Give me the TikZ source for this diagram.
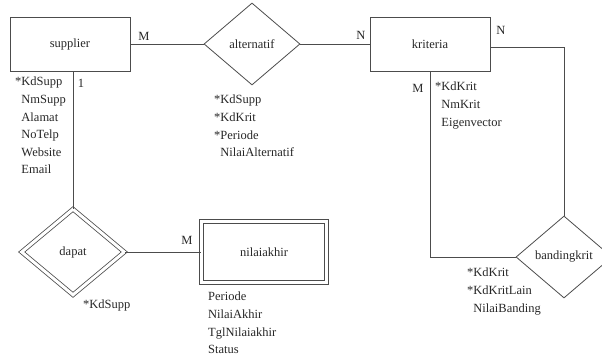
\documentclass[tikz,border=0pt]{standalone}
\usepackage{fontspec}
\setmainfont{Liberation Serif}
\usetikzlibrary{shapes.geometric, positioning, calc}

\begin{document}
\begin{tikzpicture}[
  x=1pt, y=-1pt,
  every node/.style={font=\fontsize{12.5}{17.6}\selectfont, text=black!85},
  line/.style={draw=black!70, line width=0.8pt},
  entity/.style={line, rectangle, minimum width=120pt, minimum height=54pt, inner sep=0pt},
  wentity/.style={line, rectangle, double, double distance=3.5pt, minimum width=125pt, minimum height=61pt, inner sep=0pt},
  relation/.style={line, diamond, minimum width=96pt, minimum height=82pt, inner sep=0pt},
  wrelation/.style={line, diamond, double, double distance=3pt, minimum width=103pt, minimum height=86pt, inner sep=0pt},
  attr/.style={anchor=north west, align=left, inner sep=0pt},
  card/.style={inner sep=0pt}
]
  \clip (0,0) rectangle (602,358);
  \useasboundingbox (0,0) rectangle (602,358);

  % entities and relations
  \node[entity] (supplier) at (70,44) {supplier};
  \node[relation] (alternatif) at (252,44) {alternatif};
  \node[entity] (kriteria) at (430,44) {kriteria};
  \node[relation] (bandingkrit) at (564,257) {bandingkrit};
  \node[wrelation] (dapat) at (73,252) {dapat};
  \node[wentity] (nilaiakhir) at (264,252) {nilaiakhir};

  % connectors
  \draw[line] (supplier.east) -- (alternatif.west);
  \draw[line] (alternatif.east) -- (kriteria.west);
  \draw[line] ([yshift=-3.5pt]kriteria.east) -| (bandingkrit.north);
  \draw[line] (kriteria.south) |- (bandingkrit.west);
  \draw[line] (supplier.south -| dapat.north) -- (dapat.north);
  \draw[line] (dapat.east) -- (nilaiakhir.west);

  % cardinalities
  \node[card] (c1) at (144,36) {M};
  \node[card] (c2) at (361,35) {N};
  \node[card] (c3) at (501,30) {N};
  \node[card] (c4) at (418,88) {M};
  \node[card] (c5) at (81,83) {1};
  \node[card] (c6) at (187,240) {M};

  % attributes
  \node[attr] (asupplier) at (15,77) {*KdSupp\\\phantom{*}NmSupp\\\phantom{*}Alamat\\\phantom{*}NoTelp\\\phantom{*}Website\\\phantom{*}Email};
  \node[attr] (aalternatif) at (214,95) {*KdSupp\\*KdKrit\\*Periode\\\phantom{*}NilaiAlternatif};
  \node[attr] (akriteria) at (435,82) {*KdKrit\\\phantom{*}NmKrit\\\phantom{*}Eigenvector};
  \node[attr] (adapat) at (83,300) {*KdSupp};
  \node[attr] (anilaiakhir) at (208,292) {Periode\\NilaiAkhir\\TglNilaiakhir\\Status};
  \node[attr] (abandingkrit) at (467,268) {*KdKrit\\*KdKritLain\\\phantom{*}NilaiBanding};
\end{tikzpicture}
\end{document}
